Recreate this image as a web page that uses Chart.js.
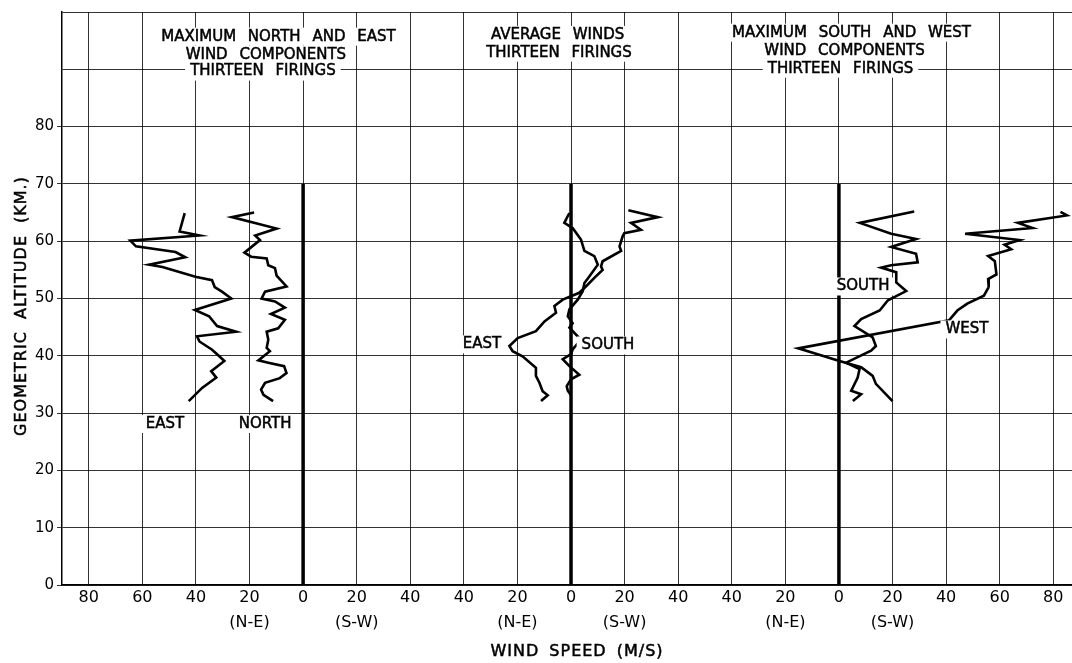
<!DOCTYPE html>
<html>
<head>
<meta charset="utf-8">
<script src="https://cdn.jsdelivr.net/npm/chart.js@4/dist/chart.umd.min.js"></script>
<style>
html,body{margin:0;padding:0;background:#fff;}
#wrap{width:1072px;height:663px;position:relative;}
</style>
</head>
<body>
<div id="wrap"><canvas id="c"></canvas></div>
<script>
// ---------- DATA (altitude in km, wind speed in m/s) ----------
// Panel 1: maximum north and east components (magnitudes, plotted on the N-E side)
const p1EastAlt   = [64.9, 61.7, 61.0, 60.1, 59.1, 58.1, 57.2, 55.9, 55.5, 53.8, 53.2, 52.0, 51.2, 50.0, 48.0, 46.9, 45.2, 44.2, 43.4, 42.5, 41.1, 40.3, 39.1, 37.3, 36.2, 34.4, 32.1];
const p1EastSpeed = [44.2, 46.1, 38.7, 64.5, 62.4, 47.6, 44.0, 57.5, 52.5, 40.2, 34.0, 33.0, 30.3, 26.8, 40.4, 35.1, 32.1, 25.0, 39.6, 38.7, 34.1, 32.2, 29.4, 34.3, 32.4, 37.7, 42.7];
const p1NorthAlt   = [65.0, 64.2, 62.2, 61.0, 60.2, 58.0, 57.3, 57.0, 55.8, 55.3, 54.0, 52.1, 51.2, 50.0, 49.5, 48.4, 47.3, 46.3, 44.8, 44.2, 42.8, 41.4, 40.8, 39.2, 38.8, 38.2, 37.0, 36.1, 35.3, 34.1, 33.2, 32.1];
const p1NorthSpeed = [18.3, 26.6, 9.9, 17.9, 16.1, 21.9, 19.4, 13.6, 13.0, 10.5, 9.9, 6.2, 14.2, 15.5, 10.5, 6.8, 12.0, 6.8, 9.3, 13.6, 13.0, 13.6, 12.4, 16.7, 13.0, 7.1, 6.2, 8.7, 14.2, 15.7, 14.8, 11.2];

// Panel 2: average winds (signed: negative = N-E, positive = S-W)
const p2EastAlt   = [65.4, 64.2, 63.2, 62.0, 61.4, 60.9, 59.1, 58.3, 56.5, 55.6, 55.0, 53.6, 52.4, 51.0, 49.8, 48.7, 47.5, 46.0, 44.3, 43.1, 41.7, 40.8, 39.9, 37.9, 36.5, 35.3, 33.8, 33.1, 32.1];
const p2EastSpeed = [21.4, 32.4, 22.4, 26.1, 19.9, 19.3, 18.1, 18.7, 11.8, 11.2, 11.8, 8.7, 6.2, 3.1, -3.1, -6.2, -5.6, -9.9, -13.1, -19.9, -23.0, -21.8, -18.1, -13.1, -13.1, -11.8, -10.6, -8.7, -11.2];
const p2SouthAlt   = [64.9, 64.4, 63.2, 62.3, 60.3, 58.3, 57.4, 55.9, 53.9, 52.7, 51.3, 49.8, 48.1, 46.9, 45.7, 44.9, 42.8, 41.1, 40.3, 39.4, 38.2, 36.7, 35.9, 34.7, 33.9, 33.1];
const p2SouthSpeed = [-0.6, -1.2, -2.5, 0.6, 3.7, 5.0, 8.7, 10.0, 6.9, 5.0, 4.4, 2.5, -0.6, -1.2, 0.6, -0.6, 3.7, 0.6, 0.0, -3.1, -0.6, 3.1, 0.0, -1.6, -1.2, 0.0];

// Panel 3: maximum south and west components (signed: positive = S-W)
const p3SouthAlt   = [65.2, 63.2, 61.3, 60.4, 59.0, 57.8, 56.3, 55.8, 55.4, 54.6, 52.8, 51.3, 49.7, 47.9, 46.4, 45.2, 43.2, 41.7, 40.9, 38.8, 37.7, 36.2, 33.9, 33.3, 32.1];
const p3SouthSpeed = [28.1, 7.8, 19.5, 28.8, 19.5, 28.8, 29.4, 19.5, 15.8, 21.4, 21.4, 25.1, 18.3, 15.2, 8.3, 5.8, 12.6, 13.8, 12.0, 2.7, 7.7, 7.0, 4.6, 8.3, 5.2];
const p3WestAlt   = [65.1, 64.5, 63.2, 62.3, 61.3, 60.2, 59.4, 58.6, 57.4, 56.5, 54.2, 53.4, 52.0, 50.5, 49.1, 47.9, 46.2, 41.3, 39.1, 38.0, 36.5, 35.1, 32.1];
const p3WestSpeed = [82.7, 85.1, 66.8, 72.3, 47.1, 67.4, 61.8, 64.3, 55.7, 58.2, 58.8, 55.7, 55.9, 54.1, 47.9, 44.2, 41.1, -15.2, 0.2, 8.3, 12.6, 13.8, 20.0];

// Tick labels
const xTickLabels    = ['80','60','40','20','0','20','40','40','20','0','20','40','40','20','0','20','40','60','80'];
const xTickSubLabels = ['','','','(N-E)','','(S-W)','','','(N-E)','','(S-W)','','','(N-E)','','(S-W)','','',''];
const yTickLabels    = ['0','10','20','30','40','50','60','70','80','',''];

// Texts
const panelTitles = [
  ['MAXIMUM NORTH AND EAST', 'WIND COMPONENTS', 'THIRTEEN FIRINGS'],
  ['AVERAGE WINDS', 'THIRTEEN FIRINGS'],
  ['MAXIMUM SOUTH AND WEST', 'WIND COMPONENTS', 'THIRTEEN FIRINGS']
];
const curveLabels = ['EAST', 'NORTH', 'EAST', 'SOUTH', 'SOUTH', 'WEST'];
const xTitle = 'WIND SPEED (M/S)';
const yTitle = 'GEOMETRIC ALTITUDE (KM.)';

// ---------- LAYOUT (shared axis: each panel has its own zero) ----------
const panelZero = [0, 100, 200];
const zeroLineTop = 70;
const xMin = -90, xMax = 287;

// title / label anchor positions in axis units
const titlePos = [
  [[-9.2, 95.7], [-13.9, 92.5], [-15.0, 89.6]],
  [[95.0, 96.0], [95.5, 92.9]],
  [[204.7, 96.4], [202.1, 93.2], [200.6, 90.1]]
];
const curveLabelPos = [[-51.6, 28.1], [-14.2, 28.1], [66.8, 42.0], [113.8, 41.8], [209.0, 52.1], [247.8, 44.6]];

function pts(alts, speeds, zero, sign) {
  return alts.map((a, i) => ({ x: zero + sign * speeds[i], y: a }));
}
const curveStyle = { borderColor: '#000', borderWidth: 2.6, pointRadius: 0, showLine: true, tension: 0, fill: false, borderJoinStyle: 'miter' };
const zeroStyle = { borderColor: '#000', borderWidth: 3.5, pointRadius: 0, showLine: true, fill: false };

const datasets = [
  { label: 'Panel 1 East', data: pts(p1EastAlt, p1EastSpeed, panelZero[0], -1), ...curveStyle },
  { label: 'Panel 1 North', data: pts(p1NorthAlt, p1NorthSpeed, panelZero[0], -1), ...curveStyle },
  { label: 'Panel 2 East', data: pts(p2EastAlt, p2EastSpeed, panelZero[1], 1), ...curveStyle },
  { label: 'Panel 2 South', data: pts(p2SouthAlt, p2SouthSpeed, panelZero[1], 1), ...curveStyle },
  { label: 'Panel 3 South', data: pts(p3SouthAlt, p3SouthSpeed, panelZero[2], 1), ...curveStyle },
  { label: 'Panel 3 West', data: pts(p3WestAlt, p3WestSpeed, panelZero[2], 1), ...curveStyle },
];
panelZero.forEach((z, i) => datasets.push({ label: 'Zero ' + (i + 1), data: [{ x: z, y: 0 }, { x: z, y: zeroLineTop }], ...zeroStyle }));

const FONT = '"DejaVu Sans", "Liberation Sans", sans-serif';

const annotate = {
  id: 'annotate',
  afterDatasetsDraw(chart) {
    const { ctx, scales: { x, y } } = chart;
    ctx.save();
    ctx.textAlign = 'center';
    ctx.textBaseline = 'middle';
    function put(text, px, py, font, ls, ws, bg) {
      ctx.font = font;
      ctx.letterSpacing = ls;
      ctx.wordSpacing = ws;
      const w = ctx.measureText(text).width;
      if (bg) {
        ctx.fillStyle = '#fff';
        ctx.fillRect(px - w / 2 - 5, py - 9, w + 10, 18);
      }
      ctx.fillStyle = '#000';
      ctx.strokeStyle = '#000';
      ctx.lineWidth = 0.5;
      ctx.fillText(text, px, py);
      ctx.strokeText(text, px, py);
    }
    panelTitles.forEach((lines, p) => {
      lines.forEach((t, i) => {
        const [vx, vy] = titlePos[p][i];
        put(t, x.getPixelForValue(vx), y.getPixelForValue(vy), '15px ' + FONT, '0px', '7px', true);
      });
    });
    curveLabels.forEach((t, i) => {
      const [vx, vy] = curveLabelPos[i];
      put(t, x.getPixelForValue(vx), y.getPixelForValue(vy), '15px ' + FONT, '0px', '0px', true);
    });
    // axis titles
    put(xTitle, 577, 652, '16px ' + FONT, '1px', '4px', false);
    ctx.save();
    ctx.translate(22, 306);
    ctx.rotate(-Math.PI / 2);
    put(yTitle, 0, 0, '16px ' + FONT, '1px', '6px', false);
    ctx.restore();
    ctx.restore();
  }
};

new Chart(document.getElementById('c'), {
  type: 'scatter',
  data: { datasets },
  options: {
    responsive: true,
    maintainAspectRatio: false,
    animation: false,
    layout: { padding: { top: 9, left: 0, right: 0, bottom: 0 } },
    plugins: { legend: { display: false }, tooltip: { enabled: false }, title: { display: false } },
    scales: {
      x: {
        type: 'linear',
        min: xMin, max: xMax,
        afterBuildTicks: (s) => { s.ticks = xTickLabels.map((_, i) => ({ value: -80 + 20 * i })); },
        afterFit: (s) => { s.height = 78; },
        ticks: {
          autoSkip: false, maxRotation: 0, minRotation: 0, padding: 0,
          color: '#000',
          font: { family: FONT, size: 16, lineHeight: 1.56 },
          callback: function (v) {
            const i = Math.round((v + 80) / 20);
            if (i < 0 || i >= xTickLabels.length) return '';
            return xTickSubLabels[i] ? [xTickLabels[i], xTickSubLabels[i]] : xTickLabels[i];
          }
        },
        grid: { color: 'rgba(0,0,0,0.8)', lineWidth: 1, drawTicks: false },
        border: { display: true, color: '#000', width: 1.5 }
      },
      y: {
        type: 'linear',
        min: 0, max: 100,
        afterFit: (s) => { s.width = 62; },
        ticks: {
          stepSize: 10, padding: 3, color: '#000',
          font: { family: FONT, size: 15 },
          callback: (v) => yTickLabels[Math.round(v / 10)] ?? ''
        },
        grid: {
          color: 'rgba(0,0,0,0.8)', lineWidth: 1, drawTicks: true, tickLength: 5,
          tickColor: (c) => (c.tick && c.tick.value > 80) ? 'rgba(0,0,0,0)' : 'rgba(0,0,0,0.8)'
        },
        border: { display: true, color: '#000', width: 1.5 }
      }
    }
  },
  plugins: [annotate]
});
</script>
</body>
</html>
